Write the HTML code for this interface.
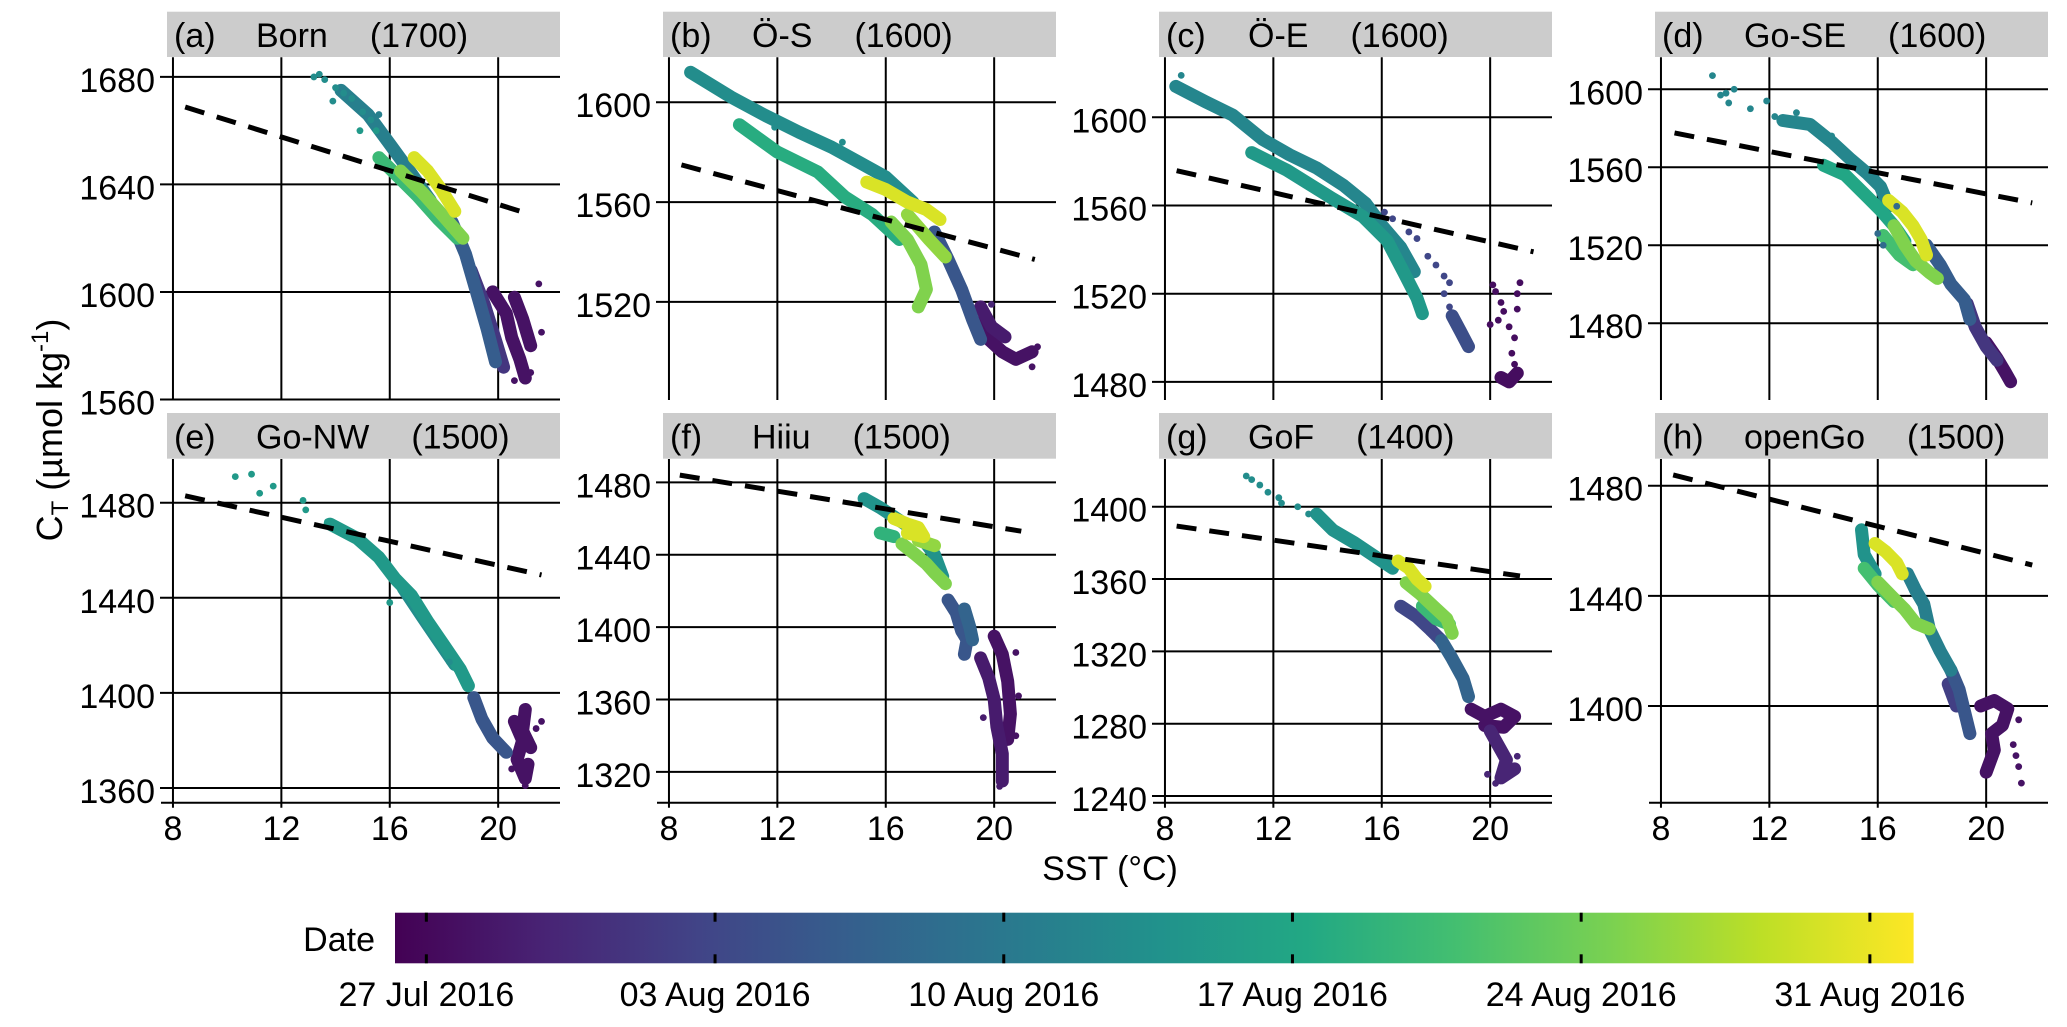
<!DOCTYPE html>
<html><head><meta charset="utf-8"><style>
html,body{margin:0;padding:0;background:#fff;}
svg{display:block;font-family:"Liberation Sans",Arial,sans-serif;}
</style></head><body>
<svg id="chart" width="2067" height="1027" viewBox="0 0 2067 1027" xmlns="http://www.w3.org/2000/svg"></svg>
<script>
// ---------- data ----------
const panelRefs = ["(a)","(b)","(c)","(d)","(e)","(f)","(g)","(h)"];
const panelNames = ["Born","Ö-S","Ö-E","Go-SE","Go-NW","Hiiu","GoF","openGo"];
const panelDepths = ["(1700)","(1600)","(1600)","(1600)","(1500)","(1500)","(1400)","(1500)"];
const xTicks = [8,12,16,20];
const yTicksA = [1560,1600,1640,1680];
const yTicksB = [1520,1560,1600];
const yTicksC = [1480,1520,1560,1600];
const yTicksD = [1480,1520,1560,1600];
const yTicksE = [1360,1400,1440,1480];
const yTicksF = [1320,1360,1400,1440,1480];
const yTicksG = [1240,1280,1320,1360,1400];
const yTicksH = [1400,1440,1480];
const yDomains = [[1559.8,1687.3],[1480.7,1618],[1471.8,1627.2],[1440.6,1616.4],[1353.8,1498.4],[1303,1492.9],[1236.3,1426.4],[1364.9,1489.7]];
// dashed reference lines: [sst0, ct0, sst1, ct1]
const dashA = [8.45,1668.8,21.2,1628.8];
const dashB = [8.46,1574.9,21.5,1537];
const dashC = [8.43,1575.8,21.6,1539];
const dashD = [8.5,1577.6,21.7,1541.7];
const dashE = [8.45,1482.9,21.6,1449.6];
const dashF = [8.4,1484,21.0,1453];
const dashG = [8.43,1389.3,21.1,1361.7];
const dashH = [8.45,1483.9,21.7,1451.2];
// dense tracks: {day, pts:[[sst,ct],...]} (day = days since 27 Jul 2016)
const tracksA = [
 {day:15,pts:[[14.2,1675],[15.2,1666],[16.0,1655],[16.8,1644],[17.5,1634]]},
 {day:24,pts:[[15.6,1650],[16.3,1643],[17.0,1636],[17.8,1627],[18.5,1620]]},
 {day:29,pts:[[16.4,1645],[17.2,1637],[18.0,1628],[18.7,1620]]},
 {day:34,pts:[[16.9,1650],[17.4,1645],[17.9,1638],[18.4,1630]]},
 {day:10,pts:[[18.3,1626],[18.8,1614],[19.2,1600],[19.6,1586],[19.9,1574]]},
 {day:5,pts:[[19.0,1608],[19.5,1595],[19.9,1582],[20.2,1572]]},
 {day:1,pts:[[19.8,1600],[20.3,1592],[20.5,1583],[20.8,1575],[21.0,1568]]},
 {day:1,pts:[[20.6,1598],[20.9,1590],[21.2,1580]]}];
const dotsA = [[13.2,1680,17],[13.4,1681,17],[13.6,1679,17],[14.0,1676,17],[14.3,1674,17],[14.6,1672,17],[15.0,1667,17],[15.3,1664,17],[15.5,1660,19],[14.9,1660,19],[15.8,1656,15],[16.1,1652,15],[13.9,1671,17],[15.6,1666,15],[21.5,1603,1],[21.6,1585,1],[20.6,1567,1],[21.2,1570,1]];
const tracksB = [
 {day:17,pts:[[8.8,1612],[10.3,1602],[11.5,1595],[12.8,1588],[14.0,1582],[15.0,1576],[16.0,1570],[17.0,1560]]},
 {day:22,pts:[[10.6,1591],[12.0,1580],[13.5,1572],[14.5,1562],[15.5,1555],[16.5,1545]]},
 {day:34,pts:[[15.3,1568],[16.0,1565],[16.8,1560],[17.5,1557],[18.0,1553]]},
 {day:29,pts:[[16.2,1552],[16.8,1545],[17.3,1535],[17.5,1525],[17.2,1518]]},
 {day:30,pts:[[16.8,1555],[17.6,1545],[18.2,1538]]},
 {day:9,pts:[[17.8,1548],[18.3,1537],[18.8,1525],[19.2,1513],[19.5,1505]]},
 {day:1,pts:[[19.3,1512],[19.8,1505],[20.3,1500],[20.8,1497],[21.4,1500]]},
 {day:2,pts:[[19.5,1518],[19.9,1510],[20.4,1506]]}];
const dotsB = [[9.2,1608,17],[10.0,1603,17],[11.9,1590,17],[13.0,1586,17],[14.4,1584,17],[21.4,1494,1],[21.6,1502,1],[19.9,1519,3]];
const tracksC = [
 {day:16,pts:[[8.4,1614],[9.5,1607],[10.5,1601],[11.6,1590],[12.6,1583],[13.6,1577],[14.6,1569],[15.4,1561],[16.0,1551],[16.7,1541],[17.2,1530]]},
 {day:19,pts:[[11.2,1584],[12.5,1576],[14.2,1563],[15.3,1555],[16.2,1544],[16.8,1530],[17.3,1518],[17.5,1511]]},
 {day:8,pts:[[18.6,1510],[18.9,1503],[19.2,1496]]},
 {day:0.5,pts:[[20.4,1482],[20.7,1480],[21.0,1484]]}];
const dotsC = [[8.6,1619,16],[16.1,1557,7],[16.4,1554,7],[17.0,1548,7],[17.3,1545,7],[17.7,1537,7],[18.0,1533,7],[18.3,1528,7],[18.5,1525,7],[18.3,1520,7],[18.5,1514,7],[20.1,1524,0.5],[20.2,1521,0.5],[20.4,1516,0.5],[20.0,1506,0.5],[20.3,1508,0.5],[20.5,1512,0.5],[20.7,1505,0.5],[20.9,1500,0.5],[20.8,1493,0.5],[20.9,1488,0.5],[21.1,1525,0.5],[21.0,1520,0.5],[21.0,1513,0.5]];
const tracksD = [
 {day:16,pts:[[12.5,1584],[13.5,1582],[14.3,1573],[15.0,1564],[15.6,1557],[16.1,1550],[16.4,1540]]},
 {day:21,pts:[[14.0,1561],[14.8,1556],[15.6,1545],[16.1,1538],[16.6,1530],[17.0,1522]]},
 {day:34,pts:[[16.4,1543],[16.9,1537],[17.3,1530],[17.6,1523],[17.8,1515]]},
 {day:29,pts:[[16.6,1530],[17.0,1520],[17.4,1512],[17.9,1506],[18.2,1503]]},
 {day:25,pts:[[16.2,1525],[16.8,1515],[17.3,1510]]},
 {day:10,pts:[[17.8,1520],[18.3,1510],[18.7,1500],[19.2,1492],[19.4,1482]]},
 {day:5,pts:[[19.3,1490],[19.6,1478],[20.0,1468],[20.4,1461]]},
 {day:1,pts:[[20.0,1470],[20.4,1462],[20.7,1455],[20.9,1450]]}];
const dotsD = [[9.9,1607,16],[10.2,1597,16],[10.5,1593,16],[10.7,1600,16],[11.3,1590,16],[10.4,1598,16],[11.9,1594,16],[12.2,1586,16],[13.0,1588,16],[14.3,1576,16],[14.6,1570,16],[16.7,1540,12],[16.0,1526,12],[16.2,1520,12]];
const tracksE = [
 {day:19,pts:[[13.8,1471],[14.8,1465],[15.6,1457],[16.2,1448],[16.8,1441],[17.4,1430],[18.0,1420],[18.6,1410],[18.9,1403]]},
 {day:17,pts:[[16.5,1444],[17.2,1432],[17.8,1422],[18.4,1412]]},
 {day:9,pts:[[19.1,1398],[19.4,1389],[19.8,1381],[20.3,1375]]},
 {day:1,pts:[[20.6,1388],[20.9,1380],[20.7,1372],[21.0,1364],[21.1,1370]]},
 {day:1,pts:[[21.0,1393],[20.9,1384],[21.2,1377]]}];
const dotsE = [[10.3,1491,19],[10.9,1492,19],[11.2,1484,19],[11.7,1487,19],[12.8,1481,19],[12.9,1477,19],[13.7,1472,19],[16.0,1438,19],[18.2,1413,17],[21.6,1388,1],[21.4,1385,1],[20.5,1368,1],[21.0,1361,1]];
const tracksF = [
 {day:18,pts:[[15.2,1471],[15.8,1466],[16.4,1460],[17.2,1452],[17.8,1440],[18.1,1428]]},
 {day:23,pts:[[15.8,1452],[16.3,1450]]},
 {day:29,pts:[[16.6,1446],[17.1,1440],[17.5,1435],[17.8,1430],[18.2,1424]]},
 {day:30,pts:[[17.2,1448],[17.8,1445]]},
 {day:34,pts:[[16.3,1460],[16.8,1457],[17.2,1455],[17.4,1450],[16.8,1452]]},
 {day:9,pts:[[18.3,1415],[18.6,1408],[18.8,1398],[19.0,1393],[18.9,1385]]},
 {day:11,pts:[[18.9,1410],[19.1,1400],[19.2,1393]]},
 {day:2,pts:[[19.5,1383],[19.8,1372],[20.0,1360],[20.1,1345],[20.3,1330],[20.3,1315]]},
 {day:1,pts:[[20.0,1395],[20.3,1385],[20.5,1370],[20.6,1352],[20.5,1338]]}];
const dotsF = [[20.8,1386,1],[20.9,1362,1],[20.8,1340,1],[19.6,1350,2],[20.2,1312,2]];
const tracksG = [
 {day:18,pts:[[13.6,1396],[14.2,1387],[15.0,1380],[15.8,1372],[16.4,1366]]},
 {day:7,pts:[[16.7,1345],[17.3,1339],[17.8,1332],[18.2,1326]]},
 {day:24,pts:[[17.5,1345],[18.0,1338],[18.5,1335]]},
 {day:29,pts:[[16.9,1358],[17.4,1352],[17.9,1345],[18.4,1338],[18.6,1330]]},
 {day:34,pts:[[16.6,1370],[17.0,1366],[17.3,1360],[17.6,1356]]},
 {day:11,pts:[[18.2,1326],[18.6,1316],[19.0,1305],[19.2,1295]]},
 {day:1,pts:[[19.3,1288],[19.8,1284],[20.4,1288],[20.9,1284],[20.5,1278],[19.8,1279]]},
 {day:3,pts:[[20.0,1276],[20.3,1268],[20.6,1260],[20.4,1250],[20.9,1255]]}];
const dotsG = [[11.0,1417,17],[11.2,1415,17],[11.5,1412,17],[11.8,1408,17],[12.2,1405,17],[12.3,1402,17],[12.9,1400,17],[13.3,1396,17],[19.9,1252,3],[20.2,1247,3],[21.0,1262,3]];
const tracksH = [
 {day:18,pts:[[15.4,1464],[15.5,1455],[15.9,1448]]},
 {day:15,pts:[[17.1,1448],[17.4,1442],[17.7,1437],[17.9,1428],[18.3,1420],[18.7,1413]]},
 {day:25,pts:[[15.5,1450],[16.0,1444],[16.6,1438]]},
 {day:29,pts:[[16.0,1445],[16.5,1440],[17.0,1435],[17.4,1430],[17.9,1428]]},
 {day:34,pts:[[15.9,1459],[16.3,1456],[16.7,1452],[16.9,1448]]},
 {day:9,pts:[[18.7,1413],[19.0,1406],[19.2,1398],[19.4,1390]]},
 {day:6,pts:[[18.6,1408],[18.9,1400]]},
 {day:1,pts:[[19.8,1400],[20.3,1402],[20.8,1399],[20.6,1393],[20.2,1390],[20.3,1384],[20.0,1376]]}];
const dotsH = [[21.2,1395,1],[21.0,1386,1],[21.1,1382,1],[21.2,1378,1],[21.3,1372,1],[20.1,1379,1]];
// colour bar
const dateLabels = ["27 Jul 2016","03 Aug 2016","10 Aug 2016","17 Aug 2016","24 Aug 2016","31 Aug 2016"];
const dateTickDays = [0,7,14,21,28,35];
const dayDomain = [-0.76,36.06];

// ---------- helpers ----------
const NS="http://www.w3.org/2000/svg";
const svg=document.getElementById('chart');
function mk(tag,attrs,parent){const e=document.createElementNS(NS,tag);for(const k in attrs)e.setAttribute(k,attrs[k]);(parent||svg).appendChild(e);return e;}
const VIR=["#440154","#482475","#414487","#355f8d","#2a788e","#21918c","#22a884","#44bf70","#7ad151","#bddf26","#fde725"];
function hex(c){return [parseInt(c.slice(1,3),16),parseInt(c.slice(3,5),16),parseInt(c.slice(5,7),16)];}
function viridis(t){t=Math.max(0,Math.min(1,t));const f=t*10,i=Math.min(9,Math.floor(f)),r=f-i;const a=hex(VIR[i]),b=hex(VIR[i+1]);return 'rgb('+a.map((v,k)=>Math.round(v+(b[k]-v)*r)).join(',')+')';}
function dayColor(d){return viridis((d-dayDomain[0])/(dayDomain[1]-dayDomain[0]));}

const allTicks=[yTicksA,yTicksB,yTicksC,yTicksD,yTicksE,yTicksF,yTicksG,yTicksH];
const allDash=[dashA,dashB,dashC,dashD,dashE,dashF,dashG,dashH];
const allTracks=[tracksA,tracksB,tracksC,tracksD,tracksE,tracksF,tracksG,tracksH];
const allDots=[dotsA,dotsB,dotsC,dotsD,dotsE,dotsF,dotsG,dotsH];
const PW=393, PX=27.1, XMIN=7.78;
const rowTop=[57.3,459], rowBot=[400,802.7], stripTop=[11.7,413];
const FS=34;

const defs=mk('defs',{});
for(let p=0;p<8;p++){
  const col=p%4,row=Math.floor(p/4);
  const L=167+496*col, T=rowTop[row], B=rowBot[row];
  const dom=yDomains[p];
  const sx=v=>L+(v-XMIN)*PX;
  const sy=v=>B-(v-dom[0])/(dom[1]-dom[0])*(B-T);
  const g=mk('g',{});
  
  
  const st=mk('rect',{x:L,y:stripTop[row],width:PW,height:T-stripTop[row]-0.3,fill:'#cccccc'},g);
  
  
  const bl=stripTop[row]+35.5;
  const t1=mk('text',{x:L+7,y:bl,'font-size':FS,fill:'#000'},g);t1.textContent=panelRefs[p];
  
  
  const t2=mk('text',{x:L+89,y:bl,'font-size':FS,fill:'#000'},g);
  
  
  const s1=mk('tspan',{},t2);s1.textContent=panelNames[p];
  const s2=mk('tspan',{dx:42},t2);s2.textContent=panelDepths[p];
  allTicks[p].forEach(v=>{
    const y=sy(v);
    const gl=mk('line',{x1:L-7,x2:L+PW,y1:y,y2:y,stroke:'#000','stroke-width':2},g);
    
    
    const tl=mk('text',{x:L-12,y:y+15,'font-size':FS,'text-anchor':'end',fill:'#000'},g);tl.textContent=v;
    
    
  });
  xTicks.forEach(v=>{
    const x=sx(v);
    const vl=mk('line',{x1:x,x2:x,y1:T,y2:row===1?B+5:B,stroke:'#000','stroke-width':2},g);
    
    
    if(row===1){
      const xl=mk('text',{x:x,y:840,'font-size':FS,'text-anchor':'middle',fill:'#000'},g);xl.textContent=v;
      
      
    }
  });
  if(row===1){
    const ax=mk('line',{x1:L-6,x2:L+PW,y1:B,y2:B,stroke:'#000','stroke-width':2},g);
    
    
  }
  const cp=mk('clipPath',{id:'clip'+p},defs);
  mk('rect',{x:L,y:T,width:PW,height:B-T},cp);
  const data=mk('g',{'clip-path':'url(#clip'+p+')'},g);
  
  
  const tr=allTracks[p].slice().sort((a,b)=>a.day-b.day);
  tr.forEach(t=>{
    const c=dayColor(t.day);
    const pts=t.pts.map(q=>sx(q[0]).toFixed(1)+','+sy(q[1]).toFixed(1)).join(' ');
    const pl=mk('polyline',{points:pts,fill:'none',stroke:c,'stroke-width':13,'stroke-linecap':'round','stroke-linejoin':'round'},data);
    
    
  });
  allDots[p].forEach(d=>{
    const ci=mk('circle',{cx:sx(d[0]),cy:sy(d[1]),r:3.4,fill:dayColor(d[2])},data);
    
    
  });
  const ds=allDash[p];
  const dl=mk('line',{x1:sx(ds[0]),y1:sy(ds[1]),x2:sx(ds[2]),y2:sy(ds[3]),stroke:'#000','stroke-width':5,'stroke-dasharray':'20 13'},data);
  
  
}

const yt=mk('text',{transform:'translate(62,430) rotate(-90)','text-anchor':'middle','font-size':36,fill:'#000'});


mk('tspan',{},yt).textContent='C';
mk('tspan',{'font-size':24,dy:6},yt).textContent='T';
mk('tspan',{dy:-6},yt).textContent=' (µmol kg';
mk('tspan',{'font-size':24,dy:-14},yt).textContent='-1';
mk('tspan',{dy:14},yt).textContent=')';
const xt=mk('text',{x:1110,y:880,'text-anchor':'middle','font-size':FS,fill:'#000'});xt.textContent='SST (°C)';



const CB0=395,CB1=1913.6,CBT=912.7,CBB=963.3;
const grad=mk('linearGradient',{id:'vgrad',x1:0,x2:1,y1:0,y2:0},defs);
for(let i=0;i<=10;i++)mk('stop',{offset:i/10,'stop-color':VIR[i]},grad);
const cb=mk('rect',{x:CB0,y:CBT,width:CB1-CB0,height:CBB-CBT,fill:'url(#vgrad)'});


const dt=mk('text',{x:375,y:951,'text-anchor':'end','font-size':FS,fill:'#000'});dt.textContent='Date';


const dx=d=>CB0+(d-dayDomain[0])/(dayDomain[1]-dayDomain[0])*(CB1-CB0);
dateTickDays.forEach((d,i)=>{
  const x=dx(d);
  const a=mk('line',{x1:x,x2:x,y1:CBT,y2:CBT+9,stroke:'#000','stroke-width':3});
  
  
  const b=mk('line',{x1:x,x2:x,y1:CBB-9,y2:CBB,stroke:'#000','stroke-width':3});
  
  
  const l=mk('text',{x:x,y:1006,'text-anchor':'middle','font-size':FS,fill:'#000'});l.textContent=dateLabels[i];
  
  
});
</script>
</body></html>
